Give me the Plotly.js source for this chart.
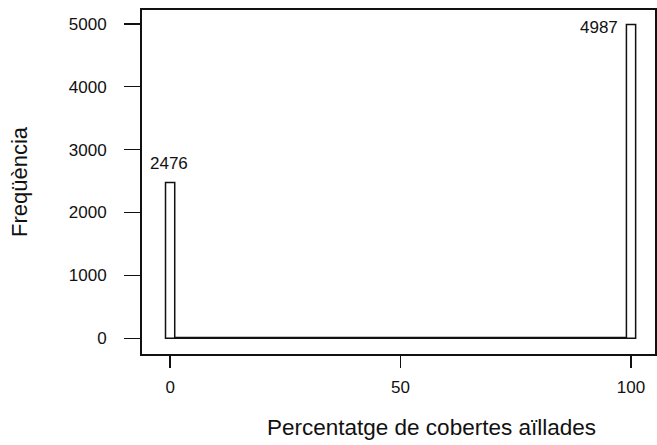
<!DOCTYPE html>
<html>
<head>
<meta charset="utf-8">
<script src="https://cdn.plot.ly/plotly-3.0.1.min.js"></script>
<style>html,body{margin:0;padding:0;background:#fff;}#chart{width:657px;height:445px;}</style>
</head>
<body>
<div id="chart"></div>
<script>
// Histogram bins: centre, width, count
const binCentres = [0, 50, 100];
const binWidths = [2, 98, 2];
const binCounts = [2476, 12, 4987];
// Labelled bars
const labelX = [0, 100];
const labelY = [2476, 4987];
const labelText = ["2476", "4987"];
const xTicks = [0, 50, 100];
const yTicks = [0, 1000, 2000, 3000, 4000, 5000];
const xTitle = "Percentatge de cobertes aïllades";
const yTitle = "Freqüència";

const font = "Liberation Sans, Arial, sans-serif";

const trace = {
  type: "bar",
  x: binCentres,
  y: binCounts,
  width: binWidths,
  marker: {color: "#ffffff", line: {color: "#111111", width: 1.5}},
  hoverinfo: "skip"
};

const annotations = labelX.map((x, i) => ({
  x: x, y: labelY[i], xref: "x", yref: "y",
  text: labelText[i], showarrow: false,
  xanchor: i === 0 ? "center" : "right",
  yanchor: i === 0 ? "bottom" : "middle",
  xshift: i === 0 ? -1 : -11,
  yshift: i === 0 ? 8 : -3,
  font: {family: font, size: 17, color: "#111"}
}));
annotations.push({
  xref: "paper", yref: "paper", x: 0.564, y: -0.215,
  xanchor: "center", yanchor: "middle", showarrow: false,
  text: xTitle, font: {family: font, size: 22.5, color: "#111"}
});

const layout = {
  width: 657, height: 445,
  margin: {l: 142, r: 2, t: 10, b: 91},
  paper_bgcolor: "#fff", plot_bgcolor: "#fff",
  showlegend: false,
  font: {family: font, color: "#111"},
  xaxis: {
    range: [-6.1, 105.2],
    tickvals: xTicks, ticktext: xTicks.map(String),
    showgrid: false, zeroline: false,
    showline: true, mirror: true, linecolor: "#111", linewidth: 2,
    ticks: "outside", ticklen: 12, tickwidth: 1.5, tickcolor: "#111",
    ticklabelstandoff: 5,
    tickfont: {family: font, size: 17, color: "#111"}
  },
  yaxis: {
    range: [-250, 5219],
    tickvals: yTicks, ticktext: yTicks.map(String),
    showgrid: false, zeroline: false,
    showline: true, mirror: true, linecolor: "#111", linewidth: 2,
    ticks: "outside", ticklen: 16, tickwidth: 1.5, tickcolor: "#111",
    ticklabelstandoff: 14,
    tickfont: {family: font, size: 17, color: "#111"},
    title: {text: yTitle, standoff: 35,
            font: {family: font, size: 22, color: "#111"}}
  },
  annotations: annotations,
  bargap: 0
};

Plotly.newPlot("chart", [trace], layout, {staticPlot: true, displayModeBar: false});
</script>
</body>
</html>
